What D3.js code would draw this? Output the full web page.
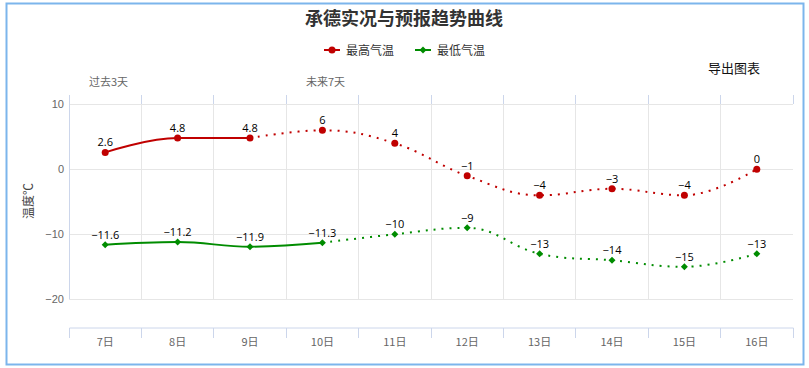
<!DOCTYPE html>
<html><head><meta charset="utf-8">
<script src="https://cdn.jsdelivr.net/npm/d3@7"></script>
<style>
html,body{margin:0;padding:0;background:#fff;}
svg{display:block;font-family:"Open Sans","Noto Sans CJK SC",sans-serif;}
</style></head>
<body><svg id="c" width="809" height="368"></svg>
<script>
const categories = ["7日","8日","9日","10日","11日","12日","13日","14日","15日","16日"];
const highTemps = [2.6, 4.8, 4.8, 6, 4, -1, -4, -3, -4, 0];
const lowTemps = [-11.6, -11.2, -11.9, -11.3, -10, -9, -13, -14, -15, -13];
const highObservedEnd = 2;   // last index of the solid (observed) part
const lowObservedEnd = 3;
const yTicks = [10, 0, -10, -20];
const titleText = "承德实况与预报趋势曲线";
const seriesNames = ["最高气温", "最低气温"];
const colors = ["#c00000", "#008c00"];

const svg = d3.select("#c");
const plotLeft = 69, plotRight = 793, plotTop = 104.3, plotBottom = 299.3;
const x = d3.scaleBand().domain(categories).range([plotLeft, plotRight]);
const y = d3.scaleLinear().domain([-20, 10]).range([plotBottom, plotTop]);

// outer frame
svg.append("rect").attr("x", 6.5).attr("y", 3.5).attr("width", 797).attr("height", 361)
  .attr("fill", "none").attr("stroke", "#7cb5ec").attr("stroke-width", 2);

// title
svg.append("text").attr("x", 404).attr("y", 25).attr("text-anchor", "middle")
  .attr("font-size", 18).attr("font-weight", "bold").attr("fill", "#333")
  .attr("font-family", "'Noto Sans CJK SC',sans-serif").text(titleText);

// legend
const legendX = [324, 415];
seriesNames.forEach((n, i) => {
  const g = svg.append("g");
  g.append("line").attr("x1", legendX[i]).attr("x2", legendX[i] + 16).attr("y1", 50).attr("y2", 50)
    .attr("stroke", colors[i]).attr("stroke-width", 2);
  if (i === 0) g.append("circle").attr("cx", legendX[i] + 8).attr("cy", 50).attr("r", 3.5).attr("fill", colors[i]);
  else g.append("path").attr("d", `M${legendX[i]+8},46.5L${legendX[i]+11.5},50L${legendX[i]+8},53.5L${legendX[i]+4.5},50Z`).attr("fill", colors[i]);
  g.append("text").attr("x", legendX[i] + 22).attr("y", 54.5).attr("font-size", 12).attr("fill", "#333")
    .attr("font-family", "'Noto Sans CJK SC',sans-serif").text(n);
});

// export text
svg.append("text").attr("x", 708).attr("y", 73).attr("font-size", 13).attr("fill", "#111")
  .attr("font-family", "'Noto Sans CJK SC',sans-serif").text("导出图表");

// past / future labels
svg.append("text").attr("x", 89).attr("y", 85.5).attr("font-size", 11).attr("fill", "#666")
  .attr("font-family", "'Noto Sans CJK SC',sans-serif").text("过去3天");
svg.append("text").attr("x", 306).attr("y", 85.5).attr("font-size", 11).attr("fill", "#666")
  .attr("font-family", "'Noto Sans CJK SC',sans-serif").text("未来7天");

// grid
const bounds = categories.map(c => x(c)).concat([plotRight]);
svg.append("g").selectAll("line").data(bounds.slice(1, -1)).join("line")
  .attr("x1", d => d).attr("x2", d => d).attr("y1", plotTop).attr("y2", plotBottom)
  .attr("stroke", "#e6e6e6").attr("stroke-width", 1).attr("shape-rendering", "crispEdges");
svg.append("g").selectAll("line").data(yTicks).join("line")
  .attr("x1", plotLeft).attr("x2", plotRight).attr("y1", d => y(d)).attr("y2", d => y(d))
  .attr("stroke", "#e6e6e6").attr("stroke-width", 1).attr("shape-rendering", "crispEdges");
// left axis line
svg.append("line").attr("x1", plotLeft).attr("x2", plotLeft).attr("y1", 95).attr("y2", plotBottom)
  .attr("stroke", "#ccd6eb").attr("shape-rendering", "crispEdges");
// top ticks
svg.append("g").selectAll("line").data(bounds).join("line")
  .attr("x1", d => d).attr("x2", d => d).attr("y1", 95).attr("y2", plotTop)
  .attr("stroke", "#ccd6eb").attr("shape-rendering", "crispEdges");

// bottom axis
const axisY = 327.5;
const xAxis = svg.append("g").attr("transform", `translate(0,${axisY})`)
  .call(d3.axisBottom(x).tickSize(0).tickPadding(11));
xAxis.select(".domain").attr("stroke", "#ccd6eb");
xAxis.selectAll("text").attr("fill", "#666").attr("font-size", 11)
  .attr("font-family", "'Noto Sans CJK SC',sans-serif");
xAxis.selectAll(".b").data(bounds).join("line").attr("class", "b")
  .attr("x1", d => d).attr("x2", d => d).attr("y1", 0).attr("y2", 10)
  .attr("stroke", "#ccd6eb").attr("shape-rendering", "crispEdges");

// y axis labels
const yAxis = svg.append("g").attr("transform", `translate(${plotLeft},0)`)
  .call(d3.axisLeft(y).tickValues(yTicks).tickSize(0).tickPadding(5).tickFormat(d => String(d).replace("-", "−")));
yAxis.select(".domain").remove();
yAxis.selectAll("text").attr("fill", "#666").attr("font-size", 11);
svg.append("text").attr("transform", "translate(33,201) rotate(-90)").attr("text-anchor", "middle")
  .attr("font-size", 12).attr("fill", "#444").attr("font-family", "'Noto Sans CJK SC',sans-serif").text("温度℃");

// Highcharts-like spline
function splinePath(pts) {
  const p = d3.path();
  const sm = 1.5, den = 2.5;
  const rc = [], lc = [];
  pts.forEach((pt, i) => {
    if (i > 0 && i < pts.length - 1) {
      const [lx, ly] = pts[i-1], [nx, ny] = pts[i+1], [px, py] = pt;
      let lcx = (sm*px + lx)/den, lcy = (sm*py + ly)/den;
      let rcx = (sm*px + nx)/den, rcy = (sm*py + ny)/den;
      let corr = 0;
      if (rcx !== lcx) corr = ((rcy - lcy)*(rcx - px))/(rcx - lcx) + py - rcy;
      lcy += corr; rcy += corr;
      if (lcy > ly && lcy > py) { lcy = Math.max(ly, py); rcy = 2*py - lcy; }
      else if (lcy < ly && lcy < py) { lcy = Math.min(ly, py); rcy = 2*py - lcy; }
      if (rcy > ny && rcy > py) { rcy = Math.max(ny, py); lcy = 2*py - rcy; }
      else if (rcy < ny && rcy < py) { rcy = Math.min(ny, py); lcy = 2*py - rcy; }
      rc[i] = [rcx, rcy];
      lc[i] = [lcx, lcy];
    }
  });
  pts.forEach((pt, i) => {
    if (i === 0) { p.moveTo(pt[0], pt[1]); return; }
    const prev = pts[i-1];
    const c1 = rc[i-1] || prev;
    const c2 = lc[i] || pt;
    p.bezierCurveTo(c1[0], c1[1], c2[0], c2[1], pt[0], pt[1]);
  });
  return p.toString();
}

function drawSeries(values, splitIdx, color, isDiamond) {
  const pts = values.map((v, i) => [x(categories[i]) + x.bandwidth()/2, y(v)]);
  const solid = pts.slice(0, splitIdx + 1);
  const dotted = pts.slice(splitIdx);
  svg.append("path").attr("d", splinePath(solid)).attr("fill", "none")
    .attr("stroke", color).attr("stroke-width", 2).attr("stroke-linejoin", "round").attr("stroke-linecap", "round");
  svg.append("path").attr("d", splinePath(dotted)).attr("fill", "none")
    .attr("stroke", color).attr("stroke-width", 2).attr("stroke-dasharray", "2,6");
  const g = svg.append("g");
  pts.forEach((p, i) => {
    if (isDiamond) g.append("path").attr("d", `M${p[0]},${p[1]-3.5}L${p[0]+3.5},${p[1]}L${p[0]},${p[1]+3.5}L${p[0]-3.5},${p[1]}Z`).attr("fill", color);
    else g.append("circle").attr("cx", p[0]).attr("cy", p[1]).attr("r", 3.5).attr("fill", color);
    g.append("text").attr("x", p[0]).attr("y", p[1] - 6).attr("text-anchor", "middle")
      .attr("font-size", 11).attr("fill", "#000").text(String(values[i]).replace("-", "−"));
  });
}
drawSeries(highTemps, highObservedEnd, colors[0], false);
drawSeries(lowTemps, lowObservedEnd, colors[1], true);
</script></body></html>
